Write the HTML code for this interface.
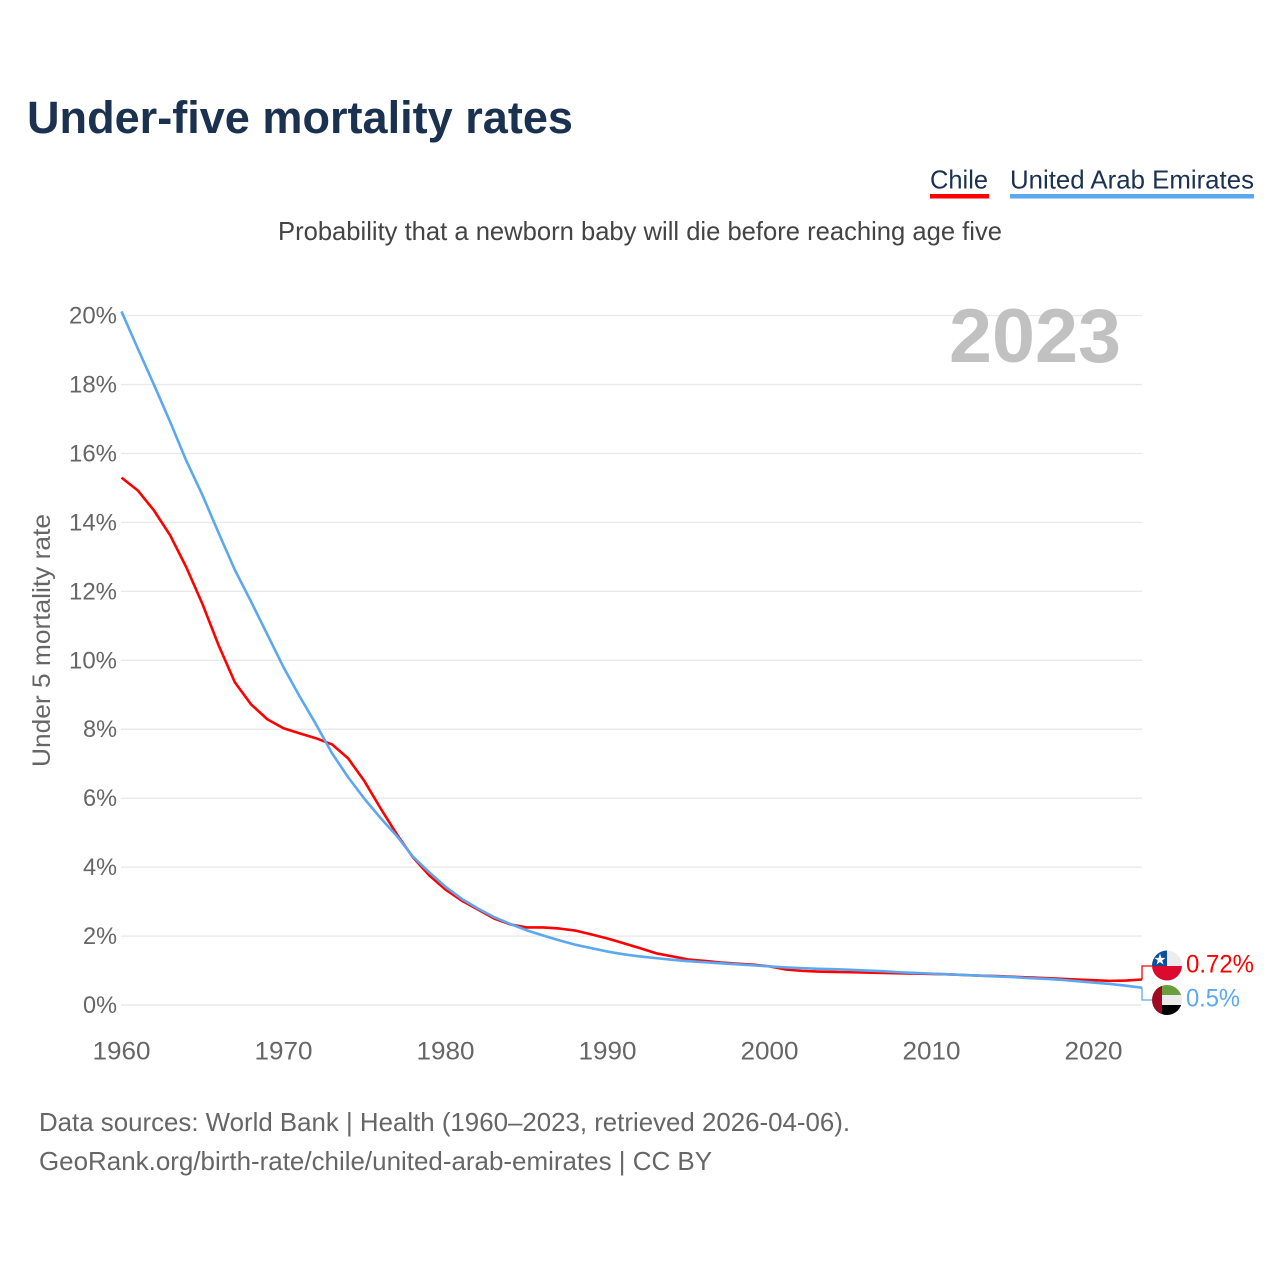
<!DOCTYPE html>
<html lang="en">
<head>
<meta charset="utf-8">
<title>Under-five mortality rates</title>
<style>
html,body{margin:0;padding:0;background:#fff;}
svg{display:block;font-family:"Liberation Sans",sans-serif;}
</style>
</head>
<body>
<svg id="chart" xmlns="http://www.w3.org/2000/svg" width="1280" height="1280" viewBox="0 0 1280 1280">
  <defs>
    <clipPath id="clip-chile"><circle cx="1167" cy="965.5" r="15"/></clipPath>
    <clipPath id="clip-uae"><circle cx="1167" cy="1000" r="15"/></clipPath>
  </defs>
  <rect width="1280" height="1280" fill="#ffffff"/>
  <text x="27" y="133" font-size="45" font-weight="700" fill="#1b3150" textLength="546" lengthAdjust="spacingAndGlyphs">Under-five mortality rates</text>
  <g>
    <text x="930" y="188.5" font-size="26" fill="#1b3150" textLength="58" lengthAdjust="spacingAndGlyphs">Chile</text>
    <rect x="930" y="194" width="59" height="4.5" fill="#ff0000"/>
  </g>
  <g>
    <text x="1010" y="188.5" font-size="26" fill="#1b3150" textLength="244" lengthAdjust="spacingAndGlyphs">United Arab Emirates</text>
    <rect x="1010" y="194" width="244" height="4.5" fill="#5ba8f0"/>
  </g>
  <text x="278" y="240" font-size="26" fill="#444444" textLength="724" lengthAdjust="spacingAndGlyphs">Probability that a newborn baby will die before reaching age five</text>
  <g id="grid"></g>
  <g id="yticks"></g>
  <g id="xticks"></g>
  <text x="949" y="362" font-size="76" font-weight="700" fill="#c1c1c1" textLength="172" lengthAdjust="spacingAndGlyphs">2023</text>
  <text transform="translate(50,767) rotate(-90)" x="0" y="0" font-size="25" fill="#666666" textLength="253" lengthAdjust="spacingAndGlyphs">Under 5 mortality rate</text>
  <g id="series"></g>
  <g clip-path="url(#clip-chile)">
    <rect x="1152" y="950" width="30" height="16" fill="#ececec"/>
    <rect x="1152" y="950" width="15" height="16" fill="#0b4ea2"/>
    <rect x="1152" y="966" width="30" height="15" fill="#dc0a2d"/>
    <polygon points="1160,954 1161.4,958.4 1165.6,958.4 1162.2,961 1163.5,965 1160,962.6 1156.5,965 1157.8,961 1154.4,958.4 1158.6,958.4" fill="#ffffff" transform="translate(0,-0.5)"/>
  </g>
  <g clip-path="url(#clip-uae)">
    <rect x="1152" y="985" width="30" height="10" fill="#6a9e3c"/>
    <rect x="1152" y="995" width="30" height="10" fill="#ececec"/>
    <rect x="1152" y="1005" width="30" height="10" fill="#000000"/>
    <rect x="1152" y="985" width="10" height="30" fill="#9e0a22"/>
  </g>
  <text x="1186" y="972.5" font-size="25" fill="#ff0000" textLength="68" lengthAdjust="spacingAndGlyphs">0.72%</text>
  <text x="1186" y="1006.5" font-size="25" fill="#5ba8f0" textLength="54" lengthAdjust="spacingAndGlyphs">0.5%</text>
  <text x="39" y="1131" font-size="26" fill="#666666" textLength="811" lengthAdjust="spacingAndGlyphs">Data sources: World Bank | Health (1960–2023, retrieved 2026-04-06).</text>
  <text x="39" y="1170" font-size="26" fill="#666666" textLength="673" lengthAdjust="spacingAndGlyphs">GeoRank.org/birth-rate/chile/united-arab-emirates | CC BY</text>
</svg>
<script>
const startYear = 1960;
const xTickYears = [1960, 1970, 1980, 1990, 2000, 2010, 2020];
const yTickValues = [0, 2, 4, 6, 8, 10, 12, 14, 16, 18, 20];
const chileValues = [15.3, 14.93, 14.35, 13.63, 12.7, 11.63, 10.43, 9.36, 8.72, 8.29,
  8.03, 7.88, 7.74, 7.56, 7.15, 6.49, 5.7, 4.95, 4.28, 3.76,
  3.35, 3.03, 2.77, 2.51, 2.34, 2.25, 2.25, 2.22, 2.16, 2.05,
  1.93, 1.79, 1.65, 1.5, 1.41, 1.32, 1.28, 1.23, 1.2, 1.17,
  1.12, 1.03, 0.99, 0.97, 0.96, 0.95, 0.94, 0.93, 0.92, 0.91,
  0.9, 0.89, 0.87, 0.85, 0.84, 0.82, 0.8, 0.78, 0.76, 0.74,
  0.72, 0.7, 0.71, 0.74];
const uaeValues = [20.12, 19.05, 18.0, 16.92, 15.79, 14.79, 13.69, 12.62, 11.7, 10.75,
  9.8, 8.95, 8.15, 7.3, 6.6, 5.98, 5.42, 4.9, 4.3, 3.85,
  3.43, 3.08, 2.8, 2.55, 2.35, 2.17, 2.02, 1.88, 1.75, 1.65,
  1.55, 1.47, 1.41, 1.36, 1.31, 1.27, 1.24, 1.21, 1.18, 1.15,
  1.12, 1.09, 1.07, 1.05, 1.04, 1.02, 1.0, 0.98, 0.95, 0.93,
  0.91, 0.89, 0.87, 0.85, 0.83, 0.81, 0.78, 0.76, 0.73, 0.69,
  0.65, 0.61, 0.56, 0.5];

const NS = 'http://www.w3.org/2000/svg';
const xScale = year => 121.5 + (year - 1960) * 16.2;
const yScale = value => 1005 - value * 34.47;

const gridGroup = document.getElementById('grid');
const yTickGroup = document.getElementById('yticks');
const xTickGroup = document.getElementById('xticks');
const seriesGroup = document.getElementById('series');

yTickValues.forEach(value => {
  const line = document.createElementNS(NS, 'line');
  
  
  line.setAttribute('x1', 121);
  line.setAttribute('x2', 1142);
  line.setAttribute('y1', yScale(value));
  line.setAttribute('y2', yScale(value));
  line.setAttribute('stroke', '#e9e9e9');
  line.setAttribute('stroke-width', '1.4');
  gridGroup.appendChild(line);

  const label = document.createElementNS(NS, 'text');
  
  
  label.setAttribute('x', 117);
  label.setAttribute('y', yScale(value) + 8);
  label.setAttribute('text-anchor', 'end');
  label.setAttribute('font-size', '24');
  label.setAttribute('fill', '#666666');
  label.setAttribute('textLength', value >= 10 ? 48 : 34);
  label.setAttribute('lengthAdjust', 'spacingAndGlyphs');
  label.textContent = value + '%';
  yTickGroup.appendChild(label);
});

xTickYears.forEach(year => {
  const label = document.createElementNS(NS, 'text');
  
  
  label.setAttribute('x', xScale(year));
  label.setAttribute('y', 1059.5);
  label.setAttribute('text-anchor', 'middle');
  label.setAttribute('font-size', '25');
  label.setAttribute('fill', '#666666');
  label.setAttribute('textLength', 58);
  label.setAttribute('lengthAdjust', 'spacingAndGlyphs');
  label.textContent = String(year);
  xTickGroup.appendChild(label);
});

function linePoints(values) {
  return values.map((value, i) => xScale(startYear + i).toFixed(2) + ',' + yScale(value).toFixed(2)).join(' ');
}

const chileLine = document.createElementNS(NS, 'polyline');


chileLine.setAttribute('points', linePoints(chileValues));
chileLine.setAttribute('fill', 'none');
chileLine.setAttribute('stroke', '#ff0000');
chileLine.setAttribute('stroke-width', '2.6');
chileLine.setAttribute('stroke-linejoin', 'round');
seriesGroup.appendChild(chileLine);

const uaeLine = document.createElementNS(NS, 'polyline');


uaeLine.setAttribute('points', linePoints(uaeValues));
uaeLine.setAttribute('fill', 'none');
uaeLine.setAttribute('stroke', '#5ba8f0');
uaeLine.setAttribute('stroke-width', '2.6');
uaeLine.setAttribute('stroke-linejoin', 'round');
seriesGroup.appendChild(uaeLine);

const chileEnd = yScale(chileValues[chileValues.length - 1]);
const uaeEnd = yScale(uaeValues[uaeValues.length - 1]);

const chileConnector = document.createElementNS(NS, 'polyline');


chileConnector.setAttribute('points', '1142,' + chileEnd + ' 1142,966 1152,966');
chileConnector.setAttribute('fill', 'none');
chileConnector.setAttribute('stroke', '#ff0000');
chileConnector.setAttribute('stroke-width', '1.3');
seriesGroup.appendChild(chileConnector);

const uaeConnector = document.createElementNS(NS, 'polyline');


uaeConnector.setAttribute('points', '1142,' + uaeEnd + ' 1142,1000 1152,1000');
uaeConnector.setAttribute('fill', 'none');
uaeConnector.setAttribute('stroke', '#5ba8f0');
uaeConnector.setAttribute('stroke-width', '1.3');
seriesGroup.appendChild(uaeConnector);
</script>
</body>
</html>
